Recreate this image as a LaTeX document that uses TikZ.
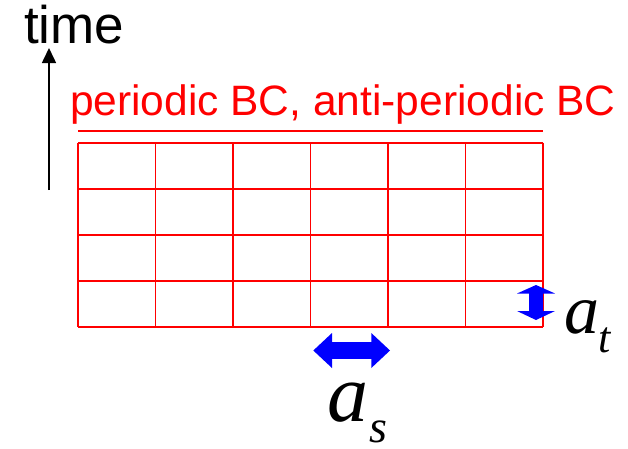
\documentclass[tikz,border=0pt]{standalone}
\usepackage{fontspec}
\setmainfont{Liberation Sans}
\newfontfamily\tnr{Liberation Serif}
\usetikzlibrary{arrows.meta}
\definecolor{gridred}{RGB}{255,0,0}
\definecolor{arrblue}{RGB}{0,0,255}
\tikzset{
  gridline/.style={draw=gridred, line width=1.7pt},
  lbl/.style={inner sep=0pt, outer sep=0pt, anchor=base west},
  bluearrow/.style={fill=arrblue, draw=none},
}
\begin{document}
\begin{tikzpicture}[x=1pt,y=-1pt]
\useasboundingbox (0,0) rectangle (628,448);
% time axis
\node[lbl, font=\fontsize{53}{53}\selectfont] (time) at (24,43) {time};
\coordinate (tbot) at (49,190);
\coordinate (ttop) at (49,48);
\draw[line width=1.6pt, -{Triangle[length=15pt,width=14pt]}] (tbot) -- (ttop);
% label
\node[lbl, text=gridred, font=\fontsize{42.5}{42.5}\selectfont] (bc) at (70,115) {periodic BC, anti-periodic BC};
\draw[gridline] (78,131) -- (543,131);
% grid
\foreach \x in {78,155.5,233,310.5,388,465.5,543} \draw[gridline] (\x,142.7) -- (\x,326.7);
\foreach \y in {142.7,188.7,234.7,280.7,326.7} \draw[gridline] (78,\y) -- (543,\y);
% horizontal blue arrow
\fill[bluearrow] (313.3,350.5) -- (332,333) -- (332,342.2) -- (371.3,342.2) -- (371.3,333) -- (390,350.5)
  -- (371.3,368) -- (371.3,358.8) -- (332,358.8) -- (332,368) -- cycle;
% vertical blue arrow
\fill[bluearrow] (536,285) -- (555,293.5) -- (543,293.5) -- (543,311) -- (555,311) -- (536,320)
  -- (517,311) -- (529,311) -- (529,293.5) -- (517,293.5) -- cycle;
% a_s
\node[lbl, font=\fontsize{82}{82}\selectfont\tnr\itshape] (as) at (327,421) {a};
\node[lbl, font=\fontsize{46}{46}\selectfont\tnr\itshape] (ass) at (369,442) {s};
% a_t
\node[lbl, font=\fontsize{70}{70}\selectfont\tnr\itshape] (at) at (564,333) {a};
\node[lbl, font=\fontsize{44}{44}\selectfont\tnr\itshape] (att) at (598,352) {t};
\end{tikzpicture}
\end{document}
